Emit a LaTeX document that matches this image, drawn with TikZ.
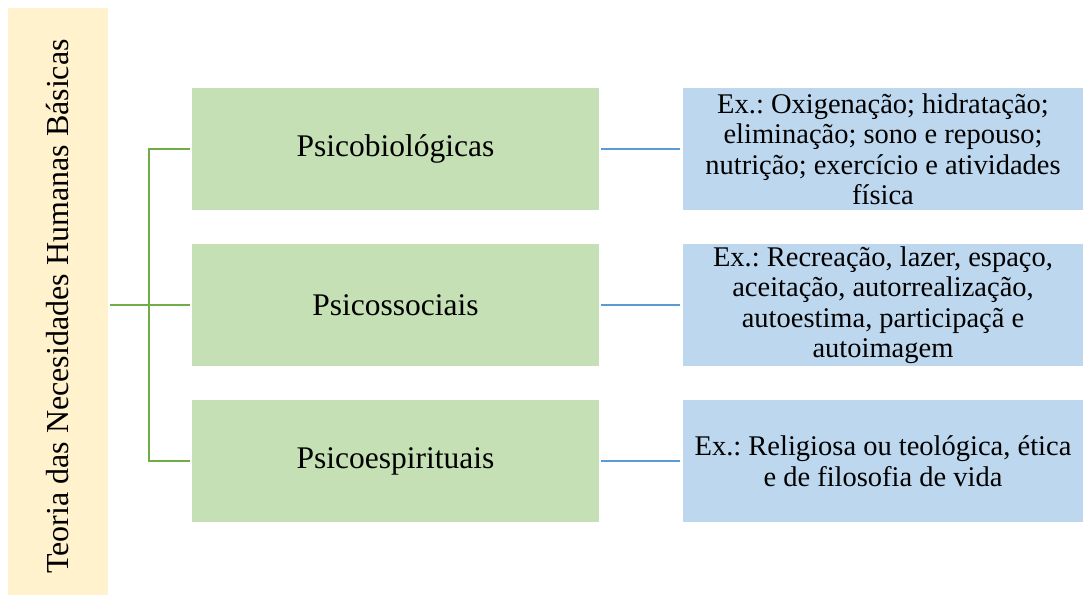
\documentclass[tikz,border=0pt]{standalone}
\usepackage{fontspec}
\setmainfont{Liberation Serif}
\usetikzlibrary{positioning}

\definecolor{fundo}{HTML}{FFF2CC}
\definecolor{verdeclaro}{HTML}{C5E0B4}
\definecolor{verde}{HTML}{70AD47}
\definecolor{azulclaro}{HTML}{BDD7EE}
\definecolor{azul}{HTML}{5B9BD5}

\frenchspacing

\begin{document}
\begin{tikzpicture}[x=1pt, y=1pt,
	titulo/.style={fill=fundo, minimum width=100pt, minimum height=587pt, inner sep=0pt},
	grupo/.style={fill=verdeclaro, minimum width=407pt, minimum height=122pt, inner sep=0pt, font=\fontsize{31.5}{36}\selectfont},
	exemplo/.style={fill=azulclaro, minimum width=400pt, minimum height=122pt, inner sep=0pt, align=center, font=\fontsize{28.5}{30.5}\selectfont},
	ligaverde/.style={draw=verde, line width=2pt},
	ligaazul/.style={draw=azul, line width=2pt, shorten <=2pt, shorten >=3pt}]
		
		\useasboundingbox (0,0) rectangle (1083,-597);
		
		% Nodes
		\node[titulo] (teoria) at (58,-301.5) {};
		\node[rotate=90, font=\fontsize{32}{36}\selectfont] at ([yshift=-5pt]teoria.center) {Teoria das Necesidades Humanas Básicas};
		
		\node[grupo] (bio) at (395.5,-149) {Psicobiológicas};
		\node[grupo] (soc) at (395.5,-305) {Psicossociais};
		\node[grupo] (esp) at (395.5,-461) {Psicoespirituais};
		
		\node[exemplo] (ex1) at (883,-149) {Ex.: Oxigenação; hidratação;\\ eliminação; sono e repouso;\\ nutrição; exercício e atividades\\ física};
		\node[exemplo] (ex2) at (883,-305) {Ex.: Recreação, lazer, espaço,\\ aceitação, autorrealização,\\ autoestima, participaçã e\\ autoimagem};
		\node[exemplo] (ex3) at (883,-461) {Ex.: Religiosa ou teológica, ética\\ e de filosofia de vida};
		
		% Lines
		\draw[ligaverde] ([xshift=-2pt]bio.west) -- ++(-41,0) |- ([xshift=-2pt]esp.west);
		\draw[ligaverde] ([xshift=2pt]teoria.east |- soc.west) -- ([xshift=-2pt]soc.west);
		
		\draw[ligaazul] (bio) -- (ex1);
		\draw[ligaazul] (soc) -- (ex2);
		\draw[ligaazul] (esp) -- (ex3);
		
	\end{tikzpicture}
\end{document}
